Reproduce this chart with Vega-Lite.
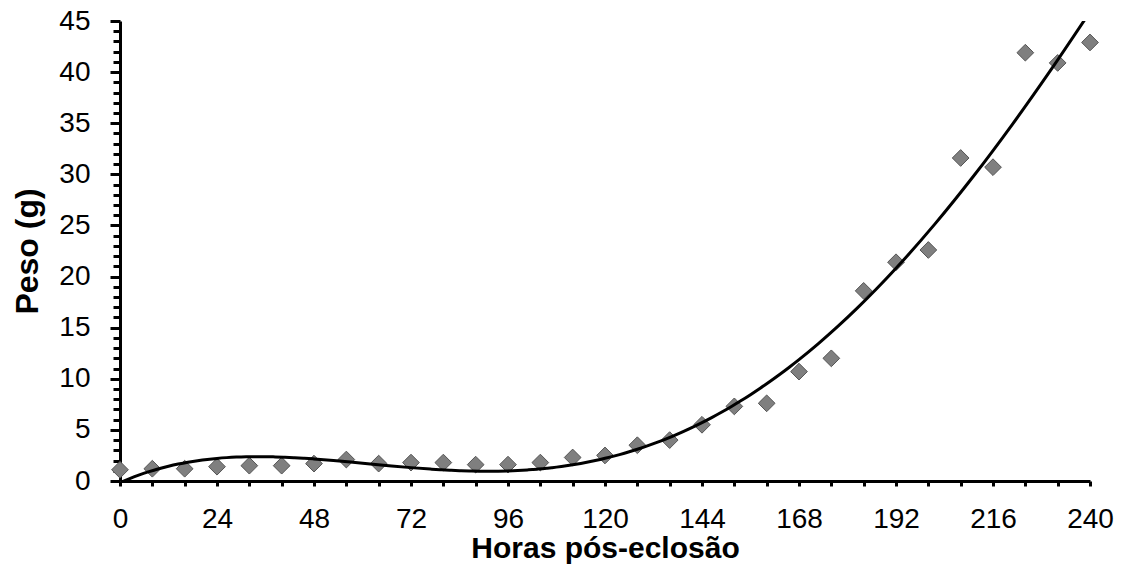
{
  "$schema": "https://vega.github.io/schema/vega-lite/v6.json",
  "width": 970,
  "height": 460,
  "autosize": "none",
  "padding": {"left": 120, "top": 21, "right": 35, "bottom": 91},
  "background": "white",
  "config": {
    "view": {"stroke": null},
    "font": "Liberation Sans",
    "axis": {"grid": false, "domainColor": "black", "tickColor": "black", "labelColor": "black", "titleColor": "black", "labelFont": "Liberation Sans", "titleFont": "Liberation Sans"}
  },
  "data": {
    "values": [
      {"horas": 0, "peso": 1.1},
      {"horas": 8, "peso": 1.2},
      {"horas": 16, "peso": 1.2},
      {"horas": 24, "peso": 1.4},
      {"horas": 32, "peso": 1.5},
      {"horas": 40, "peso": 1.5},
      {"horas": 48, "peso": 1.7},
      {"horas": 56, "peso": 2.1},
      {"horas": 64, "peso": 1.7},
      {"horas": 72, "peso": 1.8},
      {"horas": 80, "peso": 1.8},
      {"horas": 88, "peso": 1.6},
      {"horas": 96, "peso": 1.6},
      {"horas": 104, "peso": 1.8},
      {"horas": 112, "peso": 2.3},
      {"horas": 120, "peso": 2.5},
      {"horas": 128, "peso": 3.5},
      {"horas": 136, "peso": 4.0},
      {"horas": 144, "peso": 5.5},
      {"horas": 152, "peso": 7.3},
      {"horas": 160, "peso": 7.6},
      {"horas": 168, "peso": 10.7},
      {"horas": 176, "peso": 12.0},
      {"horas": 184, "peso": 18.6},
      {"horas": 192, "peso": 21.4},
      {"horas": 200, "peso": 22.6},
      {"horas": 208, "peso": 31.6},
      {"horas": 216, "peso": 30.7},
      {"horas": 224, "peso": 41.9},
      {"horas": 232, "peso": 40.9},
      {"horas": 240, "peso": 42.9}
    ]
  },
  "encoding": {
    "x": {
      "field": "horas", "type": "quantitative",
      "scale": {"domain": [0, 240], "nice": false, "zero": true},
      "axis": {
        "title": "Horas pós-eclosão",
        "values": [0,8,16,24,32,40,48,56,64,72,80,88,96,104,112,120,128,136,144,152,160,168,176,184,192,200,208,216,224,232,240],
        "labelExpr": "datum.value % 24 === 0 ? datum.label : ''",
        "labelFontSize": 28, "labelPadding": 19, "labelFlush": false, "labelOverlap": false,
        "tickSize": 5, "tickWidth": 3, "domainWidth": 3,
        "titleFontSize": 30, "titleFontWeight": "bold", "titlePadding": 0
      }
    },
    "y": {
      "field": "peso", "type": "quantitative",
      "scale": {"domain": [0, 45], "nice": false},
      "axis": {
        "title": "Peso (g)",
        "values": [0,1,2,3,4,5,6,7,8,9,10,11,12,13,14,15,16,17,18,19,20,21,22,23,24,25,26,27,28,29,30,31,32,33,34,35,36,37,38,39,40,41,42,43,44,45],
        "labelExpr": "datum.value % 5 === 0 ? datum.label : ''",
        "labelFontSize": 28, "labelPadding": 20, "labelFlush": false, "labelOverlap": false,
        "tickSize": {"condition": {"test": "datum.value % 5 === 0", "value": 10}, "value": 7},
        "tickWidth": 3, "domainWidth": 3,
        "titleFontSize": 32, "titleFontWeight": "bold", "titlePadding": 14
      }
    }
  },
  "layer": [
    {
      "mark": {"type": "point", "shape": "diamond", "filled": true, "size": 280, "color": "#7f7f7f", "stroke": "#555555", "strokeWidth": 1, "opacity": 1}
    },
    {
      "transform": [{"regression": "peso", "on": "horas", "method": "poly", "order": 4, "extent": [0, 240]}],
      "mark": {"type": "line", "color": "black", "strokeWidth": 3, "clip": true, "interpolate": "monotone"}
    }
  ]
}
